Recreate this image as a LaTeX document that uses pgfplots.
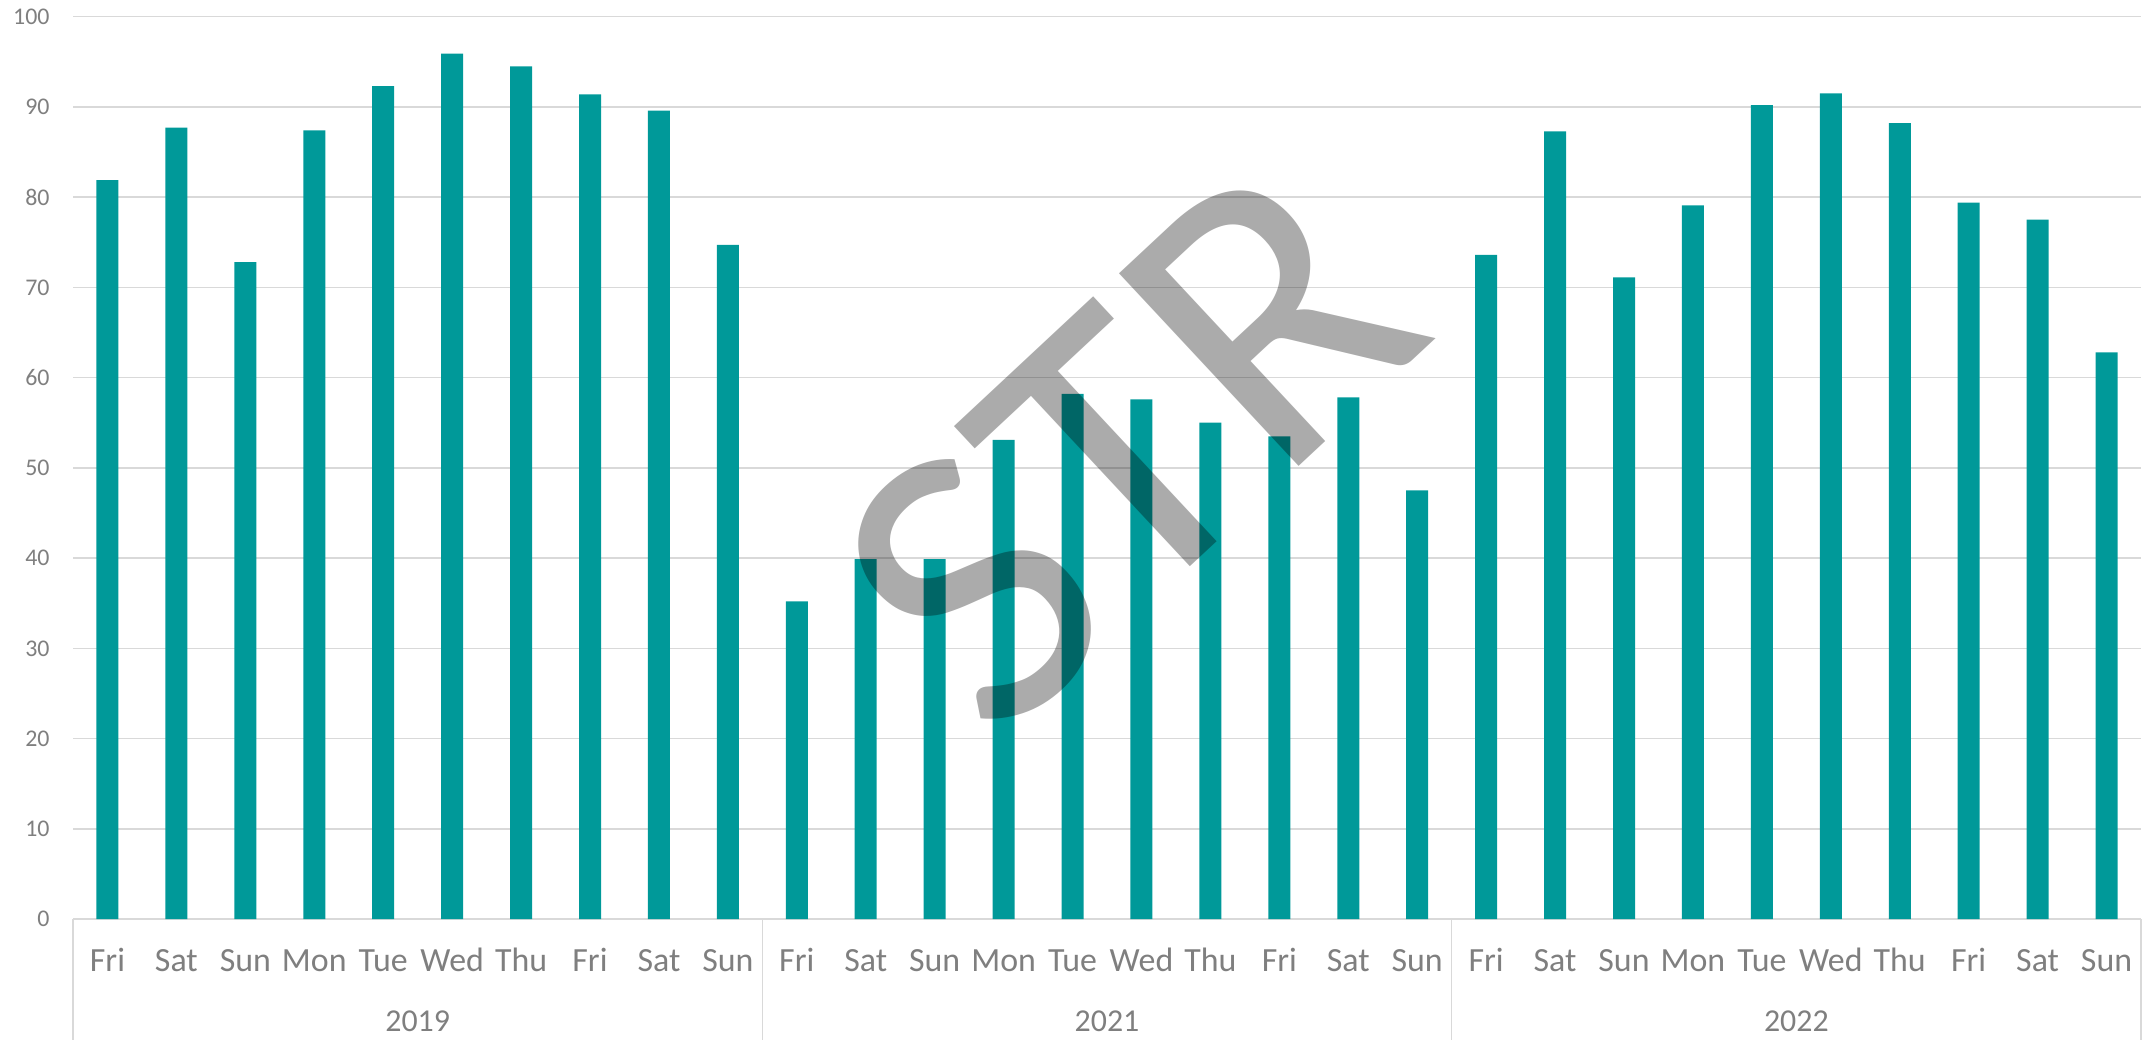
\documentclass[border=0pt]{standalone}
\usepackage{fontspec}
\setmainfont{Carlito}
\usepackage{pgfplots}
\pgfplotsset{compat=1.18}
\definecolor{barc}{HTML}{009999}
\definecolor{txt}{HTML}{7F7F7F}
\definecolor{gridc}{HTML}{D9D9D9}
\definecolor{wm}{HTML}{ABABAB}
\begin{document}
\begin{tikzpicture}
\begin{axis}[
  scale only axis, width=1034bp, height=451.15bp,
  xmin=-0.5, xmax=29.5, ymin=0, ymax=100,
  ybar, bar width=11bp,
  axis line style={draw=none},
  major tick length=0pt,
  ymajorgrids, grid style={gridc, line width=0.75bp},
  ytick={0,10,...,100},
  xtick={0,...,29},
  xticklabels={Fri,Sat,Sun,Mon,Tue,Wed,Thu,Fri,Sat,Sun,Fri,Sat,Sun,Mon,Tue,Wed,Thu,Fri,Sat,Sun,Fri,Sat,Sun,Mon,Tue,Wed,Thu,Fri,Sat,Sun},
  /pgf/number format/assume math mode=true,
  yticklabel style={anchor=east, inner sep=0pt, xshift=-11.5bp, text=txt, font=\fontsize{12}{14}\selectfont},
  xticklabel style={anchor=base, inner sep=0pt, yshift=-26bp, text=txt, font=\fontsize{17}{20}\selectfont},
  clip=false,
]
\addplot[fill=barc, draw=none, bar shift=0pt] coordinates {
 (0,81.9) (1,87.7) (2,72.8) (3,87.4) (4,92.3) (5,95.9) (6,94.5) (7,91.4) (8,89.6) (9,74.7)
 (10,35.2) (11,39.9) (12,39.9) (13,53.1) (14,58.2) (15,57.6) (16,55.0) (17,53.5) (18,57.8) (19,47.5)
 (20,73.6) (21,87.3) (22,71.1) (23,79.1) (24,90.2) (25,91.5) (26,88.2) (27,79.4) (28,77.5) (29,62.8)
};
\draw[gridc, line width=0.75bp] (axis cs:-0.5,0) -- ([yshift=-60.5bp]axis cs:-0.5,0);
\draw[gridc, line width=0.75bp] (axis cs:9.5,0) -- ([yshift=-60.5bp]axis cs:9.5,0);
\draw[gridc, line width=0.75bp] (axis cs:19.5,0) -- ([yshift=-60.5bp]axis cs:19.5,0);
\draw[gridc, line width=0.75bp] (axis cs:29.5,0) -- ([yshift=-60.5bp]axis cs:29.5,0);
\node[text=txt, inner sep=0pt, font=\fontsize{16}{19}\selectfont, yshift=-51bp] at (axis cs:4.5,0) {2019};
\node[text=txt, inner sep=0pt, font=\fontsize{16}{19}\selectfont, yshift=-51bp] at (axis cs:14.5,0) {2021};
\node[text=txt, inner sep=0pt, font=\fontsize{16}{19}\selectfont, yshift=-51bp] at (axis cs:24.5,0) {2022};
\coordinate (ll) at (rel axis cs:0,0);
\coordinate (ur) at (rel axis cs:1,1);
\coordinate (wmc) at (axis cs:14.8,52.5);
\end{axis}
\begin{scope}[blend mode=multiply]
\node[text=wm, inner sep=0pt, rotate=43, font=\fontsize{206}{230}\selectfont] at (wmc) {STR};
\end{scope}
\pgfresetboundingbox
\path ([shift={(-36.5bp,-60.5bp)}]ll) rectangle ([shift={(4bp,8.35bp)}]ur);
\end{tikzpicture}
\end{document}
